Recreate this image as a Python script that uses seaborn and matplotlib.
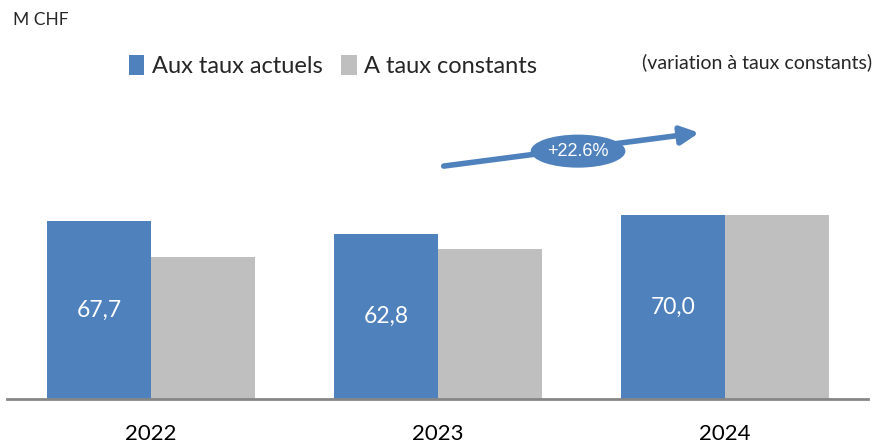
import matplotlib
matplotlib.use("Agg")
import matplotlib.pyplot as plt
from matplotlib.patches import Ellipse
import seaborn as sns
import pandas as pd

years = ["2022", "2023", "2024"]
series_names = ["Aux taux actuels", "A taux constants"]
actual_rates = [67.7, 62.8, 70.0]
constant_rates = [54.0, 57.0, 70.0]
value_labels = ["67,7", "62,8", "70,0"]
growth_label = "+22.6%"

df = pd.DataFrame({
    "year": years * 2,
    "series": [series_names[0]] * 3 + [series_names[1]] * 3,
    "value": actual_rates + constant_rates,
})

sns.set_theme(style="white")
plt.rcParams["font.family"] = ["Lato", "DejaVu Sans"]

blue = "#4F81BD"
grey = "#BFBFBF"

fig = plt.figure(figsize=(8.79, 4.48), dpi=100)
ax = fig.add_axes([0.00853, 0.1094, 0.9795, 0.6674])

sns.barplot(data=df, x="year", y="value", hue="series",
            palette=[blue, grey], width=0.725, saturation=1,
            linewidth=0, ax=ax, legend=True)

ax.set_xlim(-0.5, 2.5)
ax.set_ylim(0, 114)
ax.set_xlabel("")
ax.set_ylabel("")
ax.set_yticks([])
ax.tick_params(axis="x", length=0, labelsize=16, pad=18, colors="black")
for side in ["top", "right", "left"]:
    ax.spines[side].set_visible(False)
ax.spines["bottom"].set_color("#868686")
ax.spines["bottom"].set_linewidth(2)

# value labels inside the blue bars
blue_bars = ax.containers[0]
for bar, val, txt in zip(blue_bars, actual_rates, value_labels):
    ax.text(bar.get_x() + bar.get_width() / 2, val / 2, txt,
            ha="center", va="center", color="white", fontsize=16.5)

# legend across the top
handles, labels = ax.get_legend_handles_labels()
if ax.get_legend():
    ax.get_legend().remove()
fig.legend(handles, labels, loc="center left",
           bbox_to_anchor=(0.1335, 0.852), ncol=2, frameon=False,
           fontsize=17, handlelength=0.65, handleheight=0.9,
           handletextpad=0.3, columnspacing=0.8, borderpad=0)

fig.text(0.015, 0.955, "M CHF", fontsize=12.5, va="center", ha="left")
fig.text(0.992, 0.862, "(variation à taux constants)", fontsize=14,
         va="center", ha="right")

# growth arrow with the percentage badge
ax.annotate("", xy=(1.91, 101.5), xytext=(1.02, 88.8),
            arrowprops=dict(arrowstyle="-|>,head_length=0.9,head_width=0.45",
                            color=blue, lw=4, shrinkA=0, shrinkB=0))
ax.add_patch(Ellipse((1.488, 94.5), width=0.33, height=12.6,
                     facecolor=blue, edgecolor="none", zorder=5))
ax.text(1.488, 94.5, growth_label, ha="center", va="center",
        color="white", fontsize=13, family=["Liberation Sans"], zorder=6)

fig.savefig("out.png", dpi=100)
